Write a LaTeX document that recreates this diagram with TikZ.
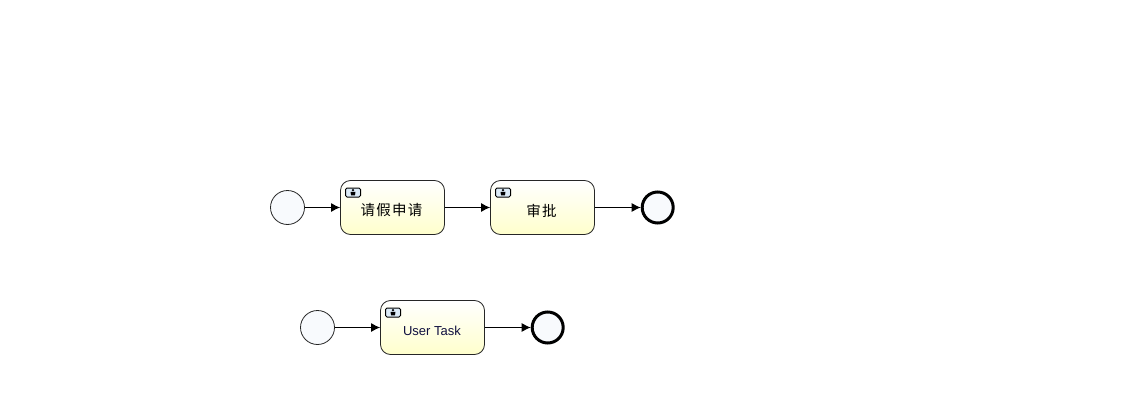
\documentclass[tikz,border=0pt]{standalone}
\usepackage{fontspec}
\setmainfont{Liberation Sans}
\newfontfamily\cjk{Noto Sans CJK SC}
\usetikzlibrary{arrows.meta,shadings,calc}
\definecolor{evfill}{HTML}{F8FAFD}
\definecolor{taskbot}{HTML}{FFFFCC}
\definecolor{tasktext}{HTML}{101040}
\definecolor{iconfill}{HTML}{DCEBF7}
\tikzset{
  startev/.style={circle,draw=black!85,line width=.8pt,fill=evfill,minimum size=34pt,inner sep=0pt},
  endev/.style={circle,draw=black,line width=3pt,fill=evfill,minimum size=31pt,inner sep=0pt},
  taskbox/.style={rectangle,rounded corners=10pt,draw=black!85,line width=.8pt,top color=white,bottom color=taskbot,
    minimum width=104pt,minimum height=54pt,inner sep=0pt},
  taskicon/.style={rectangle,rounded corners=1.5pt,draw=black,line width=1pt,fill=iconfill,
    minimum width=15pt,minimum height=9pt,inner sep=0pt},
  flow/.style={draw=black,line width=1pt,-{Latex[length=9pt,width=9pt]}},
  cjklabel/.style={inner sep=0pt,font=\cjk\fontsize{14.5}{16}\selectfont,text=black},
  latlabel/.style={inner sep=0pt,font=\fontsize{13}{15}\selectfont,text=tasktext},
}
\newcommand{\personglyph}[1]{%
  \fill[black] ($(#1)+(0,-2.4)$) circle (1.3pt);
  \fill[black] ($(#1)+(-2.5,-.6)$) -- ++(5,0) -- ++(-.6,3.4) -- ++(-3.8,0) -- cycle;
}
\begin{document}
\begin{tikzpicture}[x=1pt,y=-1pt]
\useasboundingbox (0,0) rectangle (1143,420);
\fill[white] (0,0) rectangle (1143,420);

\node[startev] (s1) at (287.5,207.5) {};
\node[taskbox] (t1) at (392.5,207.5) {};
\node[taskbox] (t2) at (542.5,207.5) {};
\node[endev]   (e1) at (657.7,207.5) {};
\node[startev] (s2) at (317.5,327.5) {};
\node[taskbox] (t3) at (432.5,327.5) {};
\node[endev]   (e2) at (547.7,327.5) {};

\node[cjklabel] (l1) at (391.5,210.5) {请\kern1.2pt 假\kern1.2pt 申\kern1.2pt 请};
\node[cjklabel] (l2) at (541.5,210.5) {审\kern1.2pt 批};
\node[latlabel] (l3) at (432,331) {User Task};

\node[taskicon] (i1) at (353,192.5) {};
\node[taskicon] (i2) at (503,192.5) {};
\node[taskicon] (i3) at (393,312.5) {};
\personglyph{i1}
\personglyph{i2}
\personglyph{i3}

\draw[flow] (s1) -- (t1);
\draw[flow] (t1) -- (t2);
\draw[flow] (t2) -- (e1);
\draw[flow] (s2) -- (t3);
\draw[flow] (t3) -- (e2);
\end{tikzpicture}
\end{document}
